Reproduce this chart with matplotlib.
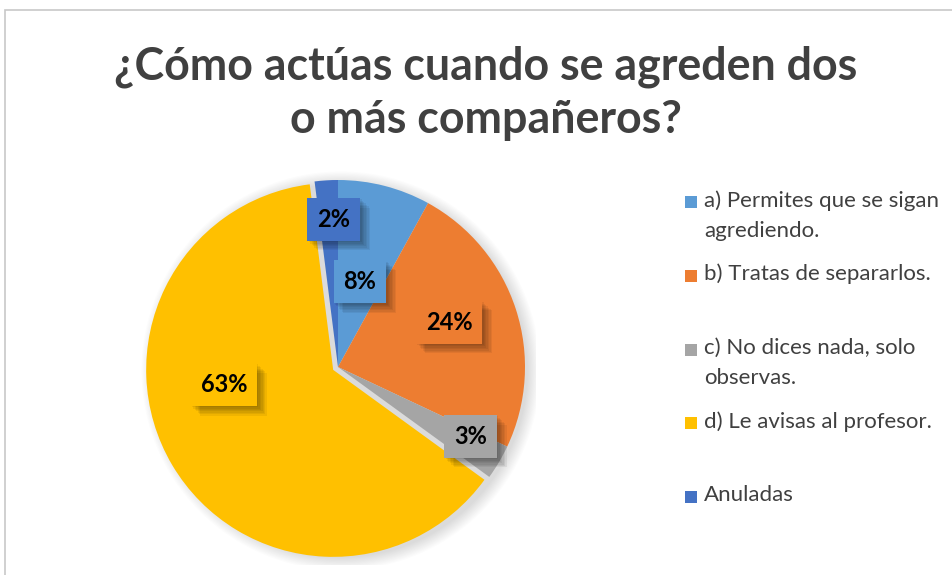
import numpy as np
import matplotlib
matplotlib.use("Agg")
import matplotlib.pyplot as plt
import matplotlib.patheffects as pe
from matplotlib.patches import Rectangle, Circle

# data
labels = [
    "a) Permites que se sigan\nagrediendo.",
    "b) Tratas de separarlos.",
    "c) No dices nada, solo\nobservas.",
    "d) Le avisas al profesor.",
    "Anuladas",
]
values = [8, 24, 3, 63, 2]
colors = ["#5B9BD5", "#ED7D31", "#A5A5A5", "#FFC000", "#4472C4"]
explode = [0, 0, 0, 0.03, 0]
# where each data label sits: fraction of radius, angle shift in degrees
label_r = [0.47, 0.64, 0.80, 0.59, 0.79]
label_shift = [0, -4, -3, 23, 2]

title_lines = ["¿Cómo actúas cuando se agreden dos", "o más compañeros?"]
text_color = "#404040"
font = "Lato"

W, H = 953, 575
fig = plt.figure(figsize=(W / 100, H / 100), dpi=100)

# chart border (only left/top edges visible in the crop)
fig.patches.append(Rectangle((4.5 / W, -0.1), 1.2, (H - 9.5) / H + 0.1,
                             transform=fig.transFigure, fill=False,
                             edgecolor="#c8c8c8", linewidth=1.2))

for line, base in zip(title_lines, [79, 133]):
    fig.text(486 / W, 1 - base / H, line, ha="center", va="baseline",
             fontsize=32.2, fontweight="bold", color=text_color, family=font)

# pie axes: center at (338, 367) px, radius 187 px
cx, cy, R = 338, 367, 187
lim = 1.06
side = 2 * R * lim
ax = fig.add_axes([(cx - side / 2) / W, (H - cy - side / 2) / H, side / W, side / H])

# soft shadow under the pie
for i in range(12):
    ax.add_patch(Circle((0.015, -0.02), 1.0 + 0.006 * i, color="k",
                        alpha=0.012, linewidth=0, zorder=0))

wedges, _ = ax.pie(values, colors=colors, explode=explode, startangle=90,
                   counterclock=False, radius=1.0,
                   wedgeprops=dict(linewidth=0))
for w in wedges:
    w.set_zorder(2)
ax.set_xlim(-lim, lim)
ax.set_ylim(-lim, lim)
ax.set_aspect("equal")
ax.axis("off")

total = sum(values)
start = 0.0
shadow = [pe.SimplePatchShadow(offset=(k, -k), shadow_rgbFace="k", alpha=0.06)
          for k in range(1, 8)]
for v, col, r, sh, ex in zip(values, colors, label_r, label_shift, explode):
    mid = start + 360 * v / total / 2
    start += 360 * v / total
    ang = np.deg2rad(90 - (mid + sh))
    x, y = r * np.cos(ang), r * np.sin(ang)
    mang = np.deg2rad(90 - mid)
    x += ex * np.cos(mang)
    y += ex * np.sin(mang)
    t = ax.text(x, y, f"{v / total * 100:.0f}%", ha="center", va="center",
                fontsize=17, fontweight="bold", color="black", family=font,
                zorder=5,
                bbox=dict(boxstyle="square,pad=0.42", facecolor=col,
                          edgecolor="none"))
    t.get_bbox_patch().set_path_effects(shadow + [pe.Normal()])

# legend, evenly spaced entries like the original
leg_x, leg_y0, leg_step = 685, 202, 73.8
for i, (lab, col) in enumerate(zip(labels, colors)):
    y = leg_y0 + i * leg_step
    fig.patches.append(Rectangle((leg_x / W, 1 - (y + 6) / H), 12 / W, 12 / H,
                                 transform=fig.transFigure, facecolor=col,
                                 edgecolor="none"))
    fig.text((leg_x + 19) / W, 1 - (y - 12) / H, lab, ha="left", va="top",
             fontsize=16, color=text_color, family=font, linespacing=1.65)

fig.savefig("out.png", dpi=100)
